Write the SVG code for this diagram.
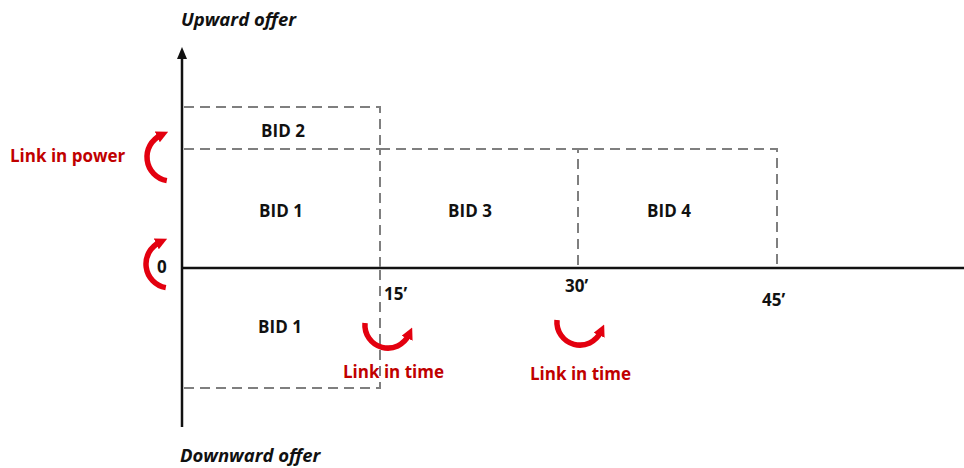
<svg xmlns="http://www.w3.org/2000/svg" width="964" height="468" viewBox="0 0 964 468">
  <style>
    .lbl { font-family: "Open Sans", "Liberation Sans", sans-serif; font-weight: bold; font-size: 17px; fill: #111111; }
    .axis-title { font-family: "Open Sans", "Liberation Sans", sans-serif; font-weight: bold; font-style: italic; font-size: 18.5px; fill: #111111; }
    .red { font-family: "Open Sans", "Liberation Sans", sans-serif; font-weight: bold; font-size: 17px; fill: #c00000; }
    .dash { fill: none; stroke: #7f7f7f; stroke-width: 2; stroke-dasharray: 10 6; }
    .axis { fill: none; stroke: #111111; stroke-width: 2.5; }
    .link { fill: none; stroke: #e3000f; stroke-width: 5.5; stroke-linecap: butt; marker-end: url(#head); }
  </style>
  <defs>
    <marker id="head" markerUnits="userSpaceOnUse" markerWidth="12" markerHeight="12" refX="4" refY="6" orient="auto">
      <path d="M0,0 L12,6 L0,12 z" fill="#e3000f"/>
    </marker>
  </defs>

  <rect width="964" height="468" fill="#ffffff"/>

  <!-- axes -->
  <g id="axes">
    <line class="axis" x1="182" y1="57" x2="182" y2="427"/>
    <polygon points="182,47 177,59 187,59" fill="#111111"/>
    <line class="axis" x1="182" y1="268" x2="964" y2="268"/>
    <text class="axis-title" x="181" y="26">Upward offer</text>
    <text class="axis-title" x="180" y="462">Downward offer</text>
    <text class="lbl" x="157" y="273">0</text>
    <text class="lbl" x="384" y="300">15’</text>
    <text class="lbl" x="565" y="292">30’</text>
    <text class="lbl" x="762" y="306">45’</text>
  </g>

  <!-- bid blocks -->
  <g id="bid2">
    <path class="dash" d="M184,107 H380 V149"/>
    <text class="lbl" x="283" y="137" text-anchor="middle">BID 2</text>
  </g>
  <g id="bid1-up">
    <path class="dash" d="M184,149 H380 V268"/>
    <text class="lbl" x="281" y="217" text-anchor="middle">BID 1</text>
  </g>
  <g id="bid3">
    <path class="dash" d="M380,149 H578 V268"/>
    <text class="lbl" x="470" y="217" text-anchor="middle">BID 3</text>
  </g>
  <g id="bid4">
    <path class="dash" d="M578,149 H777 V268"/>
    <text class="lbl" x="669" y="217" text-anchor="middle">BID 4</text>
  </g>
  <g id="bid1-down">
    <path class="dash" d="M380,270 V388 H184"/>
    <text class="lbl" x="280" y="333" text-anchor="middle">BID 1</text>
  </g>

  <!-- links -->
  <g id="connectors">
    <path class="link" d="M166.8,180.6 A24,24 0 0 1 160.9,135.2"/>
    <path class="link" d="M165.8,287.6 A24,24 0 0 1 159.9,242.2"/>
    <path class="link" d="M365,323 A23,23 0 0 0 408.8,334.7"/>
    <path class="link" d="M557,320 A23,23 0 0 0 600.8,331.7"/>
  </g>
  <g id="link-labels">
    <text class="red" x="10" y="162">Link in power</text>
    <text class="red" x="343" y="378">Link in time</text>
    <text class="red" x="530" y="380">Link in time</text>
  </g>
</svg>
